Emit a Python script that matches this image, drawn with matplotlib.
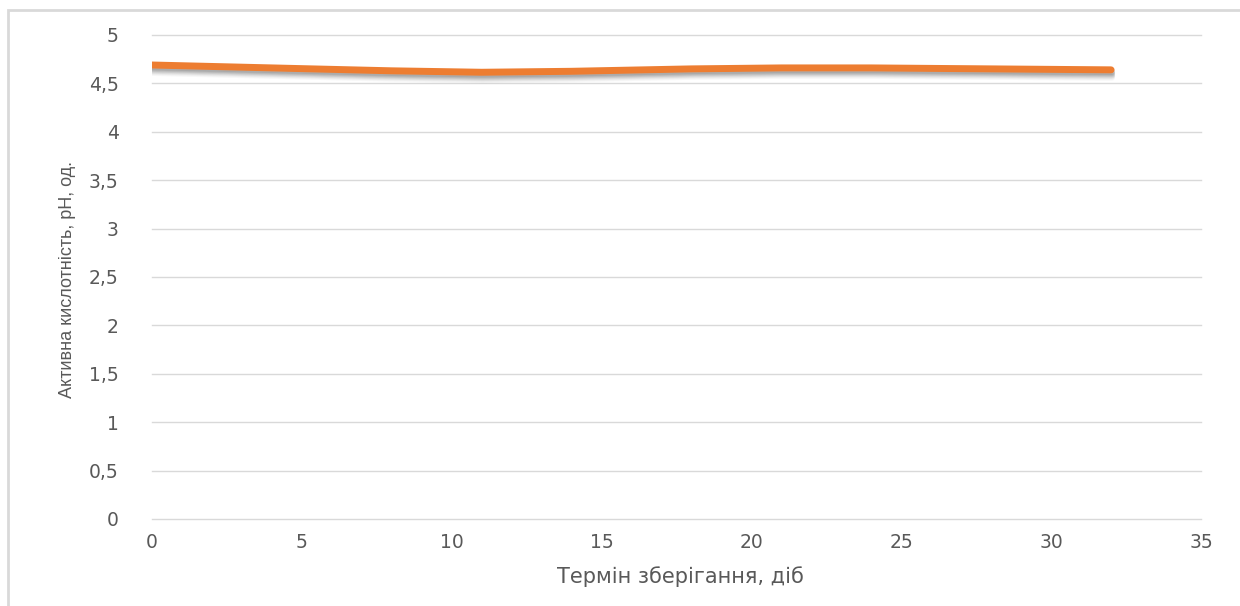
import matplotlib
matplotlib.use("Agg")
import matplotlib.pyplot as plt
import matplotlib.patheffects as pe
from matplotlib.patches import Rectangle
from matplotlib.ticker import FuncFormatter, MultipleLocator

# Storage time (days) and active acidity (pH)
days = [0, 4, 8, 11, 14, 18, 21, 24, 28, 32]
ph = [4.69, 4.66, 4.63, 4.615, 4.625, 4.65, 4.66, 4.66, 4.65, 4.64]

x_label = "Термін зберігання, діб"
y_label = "Активна кислотність, pH, од."

W, H, DPI = 1240, 606, 100
GREY = "#595959"
fig = plt.figure(figsize=(W / DPI, H / DPI), dpi=DPI)
fig.patch.set_facecolor("white")

# Chart-area frame (only its top and left edges fall inside the image)
fig.add_artist(Rectangle((8 / W, -0.05), 1.2, 1.05 - 10 / H,
                         transform=fig.transFigure, fill=False,
                         edgecolor="#D9D9D9", linewidth=2.0))

ax = fig.add_axes([152 / W, (H - 519) / H, (1201 - 152) / W, (519 - 35) / H])
ax.set_xlim(0, 35)
ax.set_ylim(0, 5)
ax.xaxis.set_major_locator(MultipleLocator(5))
ax.yaxis.set_major_locator(MultipleLocator(0.5))


def comma(v, pos):
    return f"{v:g}".replace(".", ",")


ax.yaxis.set_major_formatter(FuncFormatter(comma))
ax.xaxis.set_major_formatter(FuncFormatter(comma))

for s in ax.spines.values():
    s.set_visible(False)
ax.grid(axis="y", color="#D9D9D9", linewidth=1.0)
for gl in ax.get_ygridlines():
    gl.set_clip_on(False)
ax.set_axisbelow(True)
ax.tick_params(length=0, labelsize=13.5, labelcolor=GREY)
ax.tick_params(axis="y", pad=24)
ax.tick_params(axis="x", pad=10)
for lab in ax.get_xticklabels() + ax.get_yticklabels():
    lab.set_fontfamily("DejaVu Sans")

# Soft, blurred drop shadow under the line
shadow = [pe.SimpleLineShadow(offset=(0.4, -dy), shadow_color="#202020",
                              alpha=a, linewidth=5.0)
          for dy, a in [(1.2, 0.09), (1.9, 0.09), (2.6, 0.08),
                        (3.3, 0.07), (4.0, 0.05), (4.7, 0.04), (5.4, 0.03)]]
ax.plot(days, ph, color="#ED7D31", linewidth=5.0, solid_capstyle="round",
        solid_joinstyle="round",
        path_effects=shadow + [pe.Normal()])

fig.text(680 / W, 1 - 577 / H, x_label, fontsize=15, color=GREY,
         fontfamily="DejaVu Sans", ha="center", va="center")
fig.text(68 / W, 1 - 280 / H, y_label, fontsize=13, color=GREY,
         fontfamily="Liberation Sans", rotation=90,
         ha="center", va="center")

fig.savefig("out.png", dpi=DPI)
